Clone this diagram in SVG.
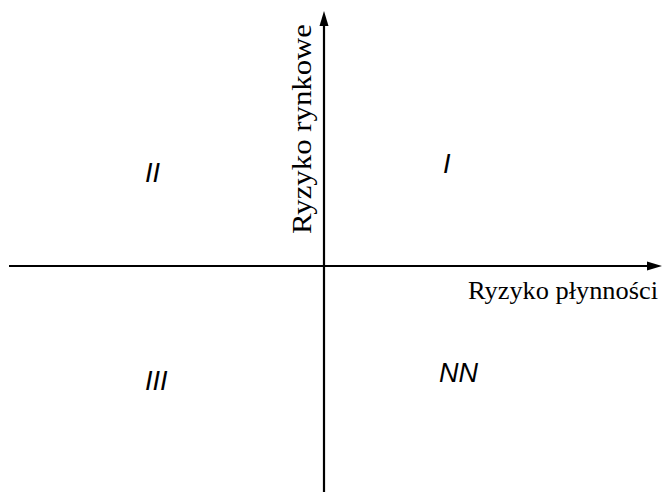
<svg xmlns="http://www.w3.org/2000/svg" width="662" height="492" viewBox="0 0 662 492">
<style>
.axis{stroke:#000;stroke-width:2.2;fill:none}
.head{fill:#000;stroke:none}
.roman{font-family:"Liberation Sans",Arial,sans-serif;font-style:italic;font-size:27px;fill:#000}
.lbl{font-family:"Liberation Serif","Times New Roman",serif;fill:#000}
</style>
<rect width="662" height="492" fill="#fff"/>
<g id="connectors">
<line class="axis" x1="324" y1="492" x2="324" y2="22"/>
<polygon class="head" points="324,11 319.5,26 328.5,26"/>
<line class="axis" x1="9" y1="266" x2="650" y2="266"/>
<polygon class="head" points="662,266 647,261.5 647,270.5"/>
</g>
<g id="label-y"><text class="lbl" font-size="27" transform="translate(311,234) rotate(-90)" textLength="210" lengthAdjust="spacingAndGlyphs">Ryzyko rynkowe</text></g>
<g id="label-x"><text class="lbl" font-size="25" x="468" y="299" textLength="190" lengthAdjust="spacingAndGlyphs">Ryzyko płynności</text></g>
<g id="q1"><text class="roman" x="443" y="173">I</text></g>
<g id="q2"><text class="roman" x="145" y="182">II</text></g>
<g id="q3"><text class="roman" x="145" y="390">III</text></g>
<g id="q4"><text class="roman" x="439" y="382">NN</text></g>
</svg>
